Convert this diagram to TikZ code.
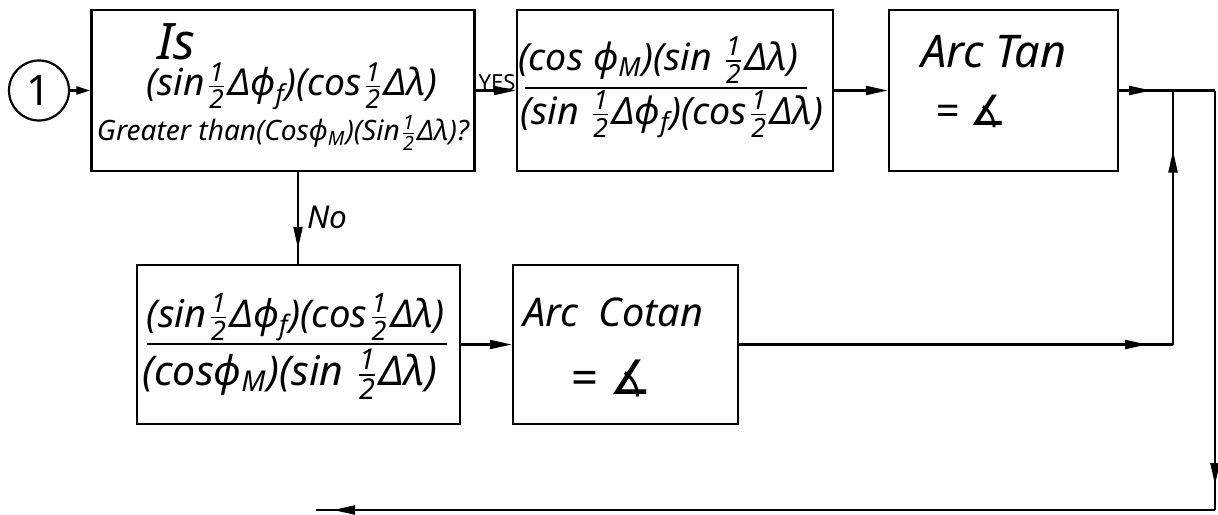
\documentclass[tikz,border=0pt]{standalone}
\usepackage{amsmath}
\usepackage{fontspec}
\setmainfont{Noto Sans}
\newfontfamily\symfnt{DejaVu Sans}
\usetikzlibrary{arrows.meta,decorations.markings}

% stacked one-half in the running text font
\newcommand\hf{\ensuremath{\tfrac{\text{1}}{\text{2}}}}
% set a piece of text to a given width
\newcommand\fitto[2]{\resizebox{#1}{!}{#2}}
% angle sign
\newcommand\angsign{{\symfnt\upshape ∡}}

\tikzset{
  box/.style={draw, line width=1.2pt, inner sep=0pt},
  wire/.style={line width=1.1pt},
  tip/.style={-{Triangle[length=11pt,width=4.5pt]}},
  smalltip/.style={-{Triangle[length=7pt,width=4pt]}},
  midtip/.style={postaction={decorate},
    decoration={markings,
      mark=at position #1 with {\arrow{Triangle[length=11pt,width=4.5pt]}}}},
  txt/.style={inner sep=0pt, font=\itshape},
  bar/.style={line width=1.1pt},
}

\begin{document}
\begin{tikzpicture}[x=0.5pt,y=-0.5pt]
\useasboundingbox (0,0) rectangle (1218,514);

% entry connector
\node[circle, draw, line width=1.1pt, minimum size=30pt, inner sep=0pt] (start) at (39,90.5)
  {\resizebox{!}{15pt}{1}};

% decision box
\node[box, minimum width=191.5pt, minimum height=80.5pt] (b1) at (283,90.5) {};
\node[txt] (b1l1) at (176,42) {\fitto{19pt}{Is}};
\node[txt] (b1l2) at (292,86) {\fitto{145pt}{(sin\hf Δϕ\textsubscript{f})(cos\hf Δλ)}};
\node[txt] (b1l3) at (283,133) {\fitto{186pt}{Greater than(Cosϕ\textsubscript{M})(Sin\hf Δλ)?}};

% tangent ratio box
\node[box, minimum width=158pt, minimum height=80.5pt] (b2) at (675,90.5) {};
\node[txt] (b2n) at (658,60) {\fitto{140pt}{(cos ϕ\textsubscript{M})(sin \hf Δλ)}};
\node[txt] (b2d) at (672,114) {\fitto{151.5pt}{(sin \hf Δϕ\textsubscript{f})(cos\hf Δλ)}};
\draw[bar] (525,88) -- (807,88);

% arc tangent box
\node[box, minimum width=114.5pt, minimum height=80.5pt] (b3) at (1003.5,90.5) {};
\node[txt] (b3a) at (994,52) {\fitto{72.5pt}{Arc Tan}};
\node[txt] (b3b) at (971,111) {\fitto{36pt}{= \angsign}};

% cotangent ratio box
\node[box, minimum width=161.5pt, minimum height=79.5pt] (b4) at (298.5,344.5) {};
\node[txt] (b4n) at (296,317) {\fitto{149pt}{(sin\hf Δϕ\textsubscript{f})(cos\hf Δλ)}};
\node[txt] (b4d) at (290,374) {\fitto{147.5pt}{(cosϕ\textsubscript{M})(sin \hf Δλ)}};
\draw[bar] (147,344) -- (447,344);

% arc cotangent box
\node[box, minimum width=112.5pt, minimum height=79.5pt] (b5) at (625.5,344.5) {};
\node[txt] (b5a) at (613,312) {\fitto{90pt}{Arc\ \ Cotan}};
\node[txt] (b5b) at (611,378) {\fitto{41pt}{= \angsign}};

% branch labels
\node[txt] (yes) at (497,83) {\fitto{18.5pt}{\upshape YES}};
\node[txt] (no) at (327,217) {\fitto{20pt}{No}};

% junction points of the return path
\coordinate (nox) at (298,0);
\coordinate (j1) at (1173,90.5);
\coordinate (j2) at (1215,90.5);
\coordinate (j3) at (1215,510);
\coordinate (j4) at (316,510);
\coordinate (j5) at (1173,344.5);

% connectors
\draw[wire, smalltip] (start) -- (b1);
\draw[wire, tip] (b1) -- (b2);
\draw[wire, tip] (b2) -- (b3);
\draw[wire, midtip=-7.5pt] (b1.south -| nox) -- (b4.north -| nox);
\draw[wire, tip] (b4) -- (b5);
\draw[wire, midtip=16pt] (b3) -- (j2);
\draw[wire, midtip=-12.5pt] (j2) -- (j3);
\draw[wire, midtip=-8.5pt] (j3) -- (j4);
\draw[wire, midtip=-13pt] (b5) -- (j5);
\draw[wire, midtip=-30pt] (j5) -- (j1);
\end{tikzpicture}
\end{document}
